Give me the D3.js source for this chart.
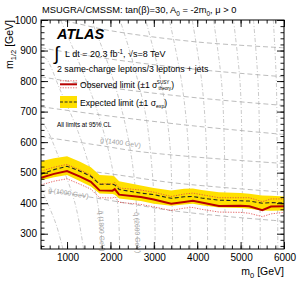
<!DOCTYPE html>
<html><head><meta charset="utf-8">
<script src="https://cdn.jsdelivr.net/npm/d3@7"></script>
<style>body{margin:0;background:#fff} svg{display:block;font-family:"Liberation Sans",Arial,Helvetica,sans-serif}</style>
</head><body><svg id="c" width="300" height="284"></svg>
<script>
// ---- data ----
const m0Grid      = [400,700,1000,1300,1550,1750,2050,2100,2200,2700,3000,3400,3700,3900,4100,4500,5000,5200,5500,5700,6000];
const observed    = [483,496,505,487,470,442,441,446,428,420,412,398,404,408,402,391,392,390,377,389,390];
const observedUp  = [505,518,527,509,492,464,463,468,450,443,436,422,430,433,428,418,418,418,405,414,414];
const observedDn  = [460,472,480,462,446,418,417,421,403,396,388,376,384,386,380,371,370,367,356,365,370];
const expected    = [495,510,521,505,488,462,462,460,445,433,428,416,421,422,417,410,408,407,400,402,401];
const expectedUp  = [537,547,554,536,518,492,490,487,472,458,450,442,447,448,443,436,433,431,425,424,422];
const expectedDn  = [475,485,492,472,455,432,430,428,415,407,398,392,396,398,393,386,384,382,376,375,376];

const xMajorTicks = [1000,2000,3000,4000,5000,6000];
const yMajorTicks = [300,400,500,600,700,800,900,1000];

// gluino iso-mass contours [m0, m1/2]
const gluino1000 = [[400,442],[900,434],[1700,416],[2700,392],[3400,376],[4800,355],[6000,341]];
const gluino1200 = [[400,525],[2000,496],[3500,466],[6000,436]];
const gluino1400 = [[400,618],[1760,589],[2613,570],[4065,550],[6000,530]];
const gluino1600 = [[400,716],[2000,685],[4000,652],[6000,625]];
const gluino1800 = [[400,814],[2000,778],[4000,745],[6000,720]];
const gluino2000 = [[400,909],[2000,872],[4000,838],[6000,814]];
const gluino2200 = [[400,1006],[1070,993],[2000,965],[4000,928],[6000,909]];
// squark iso-mass contours [m0, m1/2]
const squark1000 = [[906,250],[750,330],[553,400],[400,450]];
const squark1400 = [[1382,250],[1184,400],[809,550],[504,650],[400,665]];
const squark1800 = [[1806,253],[1783,315],[1691,413],[1530,511],[1253,635],[838,772],[538,870],[400,885]];
const squark2200 = [[2213,250],[2165,400],[1992,550],[1702,700],[1307,850],[852,1000]];
const squark2600 = [[2621,250],[2596,400],[2486,550],[2272,700],[1960,850],[1559,1000]];
const squark3000 = [[3030,250],[3012,400],[2900,600],[2799,700],[2633,800],[2442,900],[2220,1000]];
const squark3400 = [[3434,250],[3420,400],[3366,600],[3162,800],[2812,1000]];
const squark3800 = [[3838,250],[3827,400],[3789,600],[3637,800],[3359,1000]];
const squark4200 = [[4242,250],[4230,400],[4208,600],[4103,800],[3885,1000]];
const squark4600 = [[4646,250],[4638,400],[4623,600],[4559,800],[4375,1000]];
const squark5000 = [[5050,250],[5042,400],[5030,600],[4985,800],[4835,1000]];
const squark5400 = [[5454,250],[5448,400],[5438,600],[5400,800],[5297,1000]];
const squark5800 = [[5858,250],[5852,400],[5840,600],[5823,800],[5754,1000]];

// ---- drawing ----
const svg = d3.select("#c");
const L=41,R=284,T=20,B=249;
const x = d3.scaleLinear().domain([400,6000]).range([L,R]);
const y = d3.scaleLinear().domain([250,1000]).range([B,T]);

svg.append("defs").append("clipPath").attr("id","clip")
  .append("rect").attr("x",L).attr("y",T).attr("width",R-L).attr("height",B-T);
const plot = svg.append("g").attr("clip-path","url(#clip)");

const cline = d3.line().x(d=>x(d[0])).y(d=>y(d[1])).curve(d3.curveCatmullRom);
[squark1000,squark1400,squark1800,squark2200,squark2600,squark3000,squark3400,squark3800,squark4200,squark4600,squark5000,squark5400,squark5800]
  .forEach(p=>plot.append("path").attr("d",cline(p)).attr("fill","none")
    .attr("stroke","#bcbcbc").attr("stroke-width",0.8).attr("stroke-dasharray","4,2,1,2"));
[gluino1000,gluino1200,gluino1400,gluino1600,gluino1800,gluino2000,gluino2200]
  .forEach(p=>plot.append("path").attr("d",cline(p)).attr("fill","none")
    .attr("stroke","#ababab").attr("stroke-width",0.8).attr("stroke-dasharray","5,3"));

// contour labels
const lab = (tx,ty,rot,txt)=>svg.append("text").attr("transform",`translate(${tx},${ty}) rotate(${rot})`)
  .attr("font-size",6.8).attr("fill","#a0a0a0").text(txt);
lab(x(560),y(436),9,"g\u0303 (1000 GeV)");
lab(x(1760),y(600),8,"g\u0303 (1400 GeV)");
lab(x(1720),y(375),87,"q\u0303 (1800 GeV)");
lab(x(2550),y(370),88,"q\u0303 (2600 GeV)");

// band & lines
const idx = d3.range(m0Grid.length);
plot.append("path").datum(idx)
  .attr("d",d3.area().x(i=>x(m0Grid[i])).y0(i=>y(expectedDn[i])).y1(i=>y(expectedUp[i])))
  .attr("fill","#ffe000");
const ln = arr => d3.line().x(i=>x(m0Grid[i])).y(i=>y(arr[i]));
plot.append("path").datum(idx).attr("d",ln(observedUp)).attr("fill","none")
  .attr("stroke","#e04848").attr("stroke-width",0.8).attr("stroke-dasharray","1.3,1.3");
plot.append("path").datum(idx).attr("d",ln(observedDn)).attr("fill","none")
  .attr("stroke","#e04848").attr("stroke-width",0.8).attr("stroke-dasharray","1.3,1.3");
plot.append("path").datum(idx).attr("d",ln(expected)).attr("fill","none")
  .attr("stroke","#222").attr("stroke-width",1.1).attr("stroke-dasharray","4,2.5");
plot.append("path").datum(idx).attr("d",ln(observed)).attr("fill","none")
  .attr("stroke","#b80000").attr("stroke-width",2);

// axes
const xMinor = d3.range(400,6001,200), yMinor = d3.range(260,1001,20);
function ax(gen, tr, vals, size){
  const g = svg.append("g").attr("transform",tr)
    .call(gen.tickValues(vals).tickSize(size).tickFormat(""));
  g.select(".domain").remove();
  g.selectAll("line").attr("stroke","#000").attr("stroke-width",0.9);
  return g;
}
ax(d3.axisBottom(x),`translate(0,${B})`,xMinor,-3.5);
ax(d3.axisBottom(x),`translate(0,${B})`,xMajorTicks,-7);
svg.append("g").selectAll("text").data(xMajorTicks).join("text")
  .attr("x",d=>x(d)+1).attr("y",261).attr("text-anchor","middle").attr("font-size",10).text(d=>d);
ax(d3.axisTop(x),`translate(0,${T})`,xMinor,-3.5);
ax(d3.axisTop(x),`translate(0,${T})`,xMajorTicks,-7);
ax(d3.axisLeft(y),`translate(${L},0)`,yMinor,-3.5);
ax(d3.axisLeft(y),`translate(${L},0)`,yMajorTicks,-7);
svg.append("g").selectAll("text").data(yMajorTicks).join("text")
  .attr("x",37).attr("y",d=>y(d)+3.6).attr("text-anchor","end").attr("font-size",10).text(d=>d);
ax(d3.axisRight(y),`translate(${R},0)`,yMinor,-3.5);
ax(d3.axisRight(y),`translate(${R},0)`,yMajorTicks,-7);
svg.append("rect").attr("x",L).attr("y",T).attr("width",R-L).attr("height",B-T)
  .attr("fill","none").attr("stroke","#000").attr("stroke-width",1);

// axis titles
const xt = svg.append("text").attr("x",R).attr("y",275).attr("text-anchor","end").attr("font-size",10.5);
xt.append("tspan").text("m");
xt.append("tspan").attr("dy",2.5).attr("font-size",7.5).text("0");
xt.append("tspan").attr("dy",-2.5).text(" [GeV]");
const yt = svg.append("text").attr("transform",`translate(13,${T}) rotate(-90)`).attr("text-anchor","end").attr("font-size",10.5);
yt.append("tspan").text("m");
yt.append("tspan").attr("dy",2.5).attr("font-size",7.5).text("1/2");
yt.append("tspan").attr("dy",-2.5).text(" [GeV]");

// title
const tt = svg.append("text").attr("x",42).attr("y",13).attr("font-size",9.3);
tt.append("tspan").text("MSUGRA/CMSSM: tan(β)=30, A");
tt.append("tspan").attr("dy",2.5).attr("font-size",6.5).text("0");
tt.append("tspan").attr("dy",-2.5).text(" = -2m");
tt.append("tspan").attr("dy",2.5).attr("font-size",6.5).text("0");
tt.append("tspan").attr("dy",-2.5).text(", μ > 0");

// ATLAS block
svg.append("text").attr("x",57).attr("y",39).attr("font-size",14.5).attr("font-weight","bold")
  .attr("font-style","italic").text("ATLAS");
svg.append("text").attr("x",54).attr("y",60).attr("font-size",19).text("∫");
const lum = svg.append("text").attr("x",65).attr("y",57).attr("font-size",9);
lum.append("tspan").text("L dt = 20.3 fb");
lum.append("tspan").attr("dy",-3.5).attr("font-size",6.3).text("-1");
lum.append("tspan").attr("dy",3.5).text(", √s=8 TeV");
svg.append("text").attr("x",57).attr("y",72).attr("font-size",8.8).text("2 same-charge leptons/3 leptons + jets");

// legend
const lg = svg.append("g");
lg.append("line").attr("x1",60).attr("x2",77).attr("y1",80.8).attr("y2",80.8).attr("stroke","#e04848").attr("stroke-width",0.8).attr("stroke-dasharray","1.3,1.3");
lg.append("line").attr("x1",60).attr("x2",77).attr("y1",87.8).attr("y2",87.8).attr("stroke","#e04848").attr("stroke-width",0.8).attr("stroke-dasharray","1.3,1.3");
lg.append("line").attr("x1",60).attr("x2",77).attr("y1",84.3).attr("y2",84.3).attr("stroke","#b80000").attr("stroke-width",2);
const ob = lg.append("text").attr("x",80).attr("y",87.5).attr("font-size",8.6);
ob.append("tspan").text("Observed limit (±1 σ");
ob.append("tspan").attr("dy",-4).attr("dx",-0.5).attr("font-size",4.6).text("SUSY");
ob.append("tspan").attr("dy",6.5).attr("dx",-11).attr("font-size",4.6).text("theory");
ob.append("tspan").attr("dy",-2.5).text(")");
lg.append("rect").attr("x",60).attr("y",96).attr("width",17).attr("height",12).attr("fill","#ffe000");
lg.append("line").attr("x1",60).attr("x2",77).attr("y1",102).attr("y2",102).attr("stroke","#222").attr("stroke-width",1.1).attr("stroke-dasharray","3,1.6");
const ex = lg.append("text").attr("x",80).attr("y",105.5).attr("font-size",8.6);
ex.append("tspan").text("Expected limit (±1 σ");
ex.append("tspan").attr("dy",2.5).attr("font-size",5.2).text("exp");
ex.append("tspan").attr("dy",-2.5).text(")");
lg.append("text").attr("x",57).attr("y",127).attr("font-size",6.3).text("All limits at 95% CL");
</script></body></html>
